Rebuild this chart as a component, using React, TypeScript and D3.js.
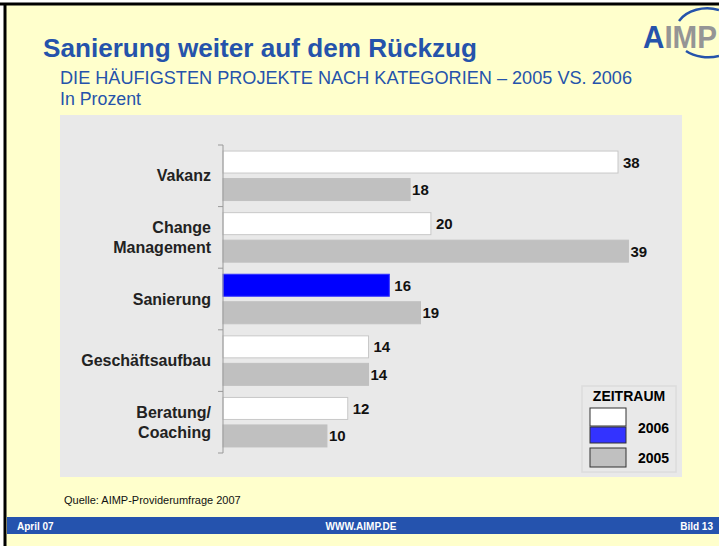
import * as d3 from 'd3'

const categories = ['Vakanz', 'Change\nManagement', 'Sanierung', 'Geschäftsaufbau', 'Beratung/\nCoaching']
const values2006 = [38, 20, 16, 14, 12]
const values2005 = [18, 39, 19, 14, 10]
const highlight = 'Sanierung'

const W = 719
const H = 546
const blue = '#2553AB'

const App = () => {
  // plot area
  const x0 = 223
  const top = 145
  const bottom = 453
  const x = d3.scaleLinear().domain([0, 38]).range([x0, 618])
  const y = d3.scaleBand().domain(categories).range([top, bottom])
  const inner = d3.scaleBand().domain(['2006', '2005']).range([0, y.bandwidth()]).paddingInner(0.2).paddingOuter(0.22)

  const series = [
    { key: '2006', values: values2006, gap: 5 },
    { key: '2005', values: values2005, gap: 2 },
  ]
  const ticks = [...categories.map((c) => y(c)), bottom]

  return (
    <div style={{ position: 'fixed', left: 0, top: 0 }}>
      <svg width={W} height={H} style={{ display: 'block', fontFamily: 'Liberation Sans, Arial, sans-serif' }}>
        <rect x={0} y={0} width={W} height={H} fill="#fff" />
        <rect x={6} y={5} width={W} height={H} fill="#FFFFCC" />
        <line x1={0} x2={W} y1={4} y2={4} stroke="#000" strokeWidth={3} />
        <line x1={5} x2={5} y1={3} y2={H} stroke="#000" strokeWidth={3} />

        {/* logo */}
        <g>
          <path d="M 679 21 A 32 24 0 0 1 719 10" fill="none" stroke="#2553AB" strokeWidth={2.5} />
          <path d="M 686 51 A 32 22 0 0 0 719 56" fill="none" stroke="#2553AB" strokeWidth={2.5} />
          <text x={643} y={48} fontSize={31} fontWeight="bold" textLength={74} lengthAdjust="spacingAndGlyphs">
            <tspan fill="#2553AB">A</tspan>
            <tspan fill="#959595">IMP</tspan>
          </text>
        </g>

        <text x={43} y={57} fontSize={26} fontWeight="bold" fill={blue} textLength={434} lengthAdjust="spacingAndGlyphs">Sanierung weiter auf dem Rückzug</text>
        <text x={60} y={84} fontSize={17.5} fill={blue} textLength={572} lengthAdjust="spacingAndGlyphs">
          DIE HÄUFIGSTEN PROJEKTE NACH KATEGORIEN – 2005 VS. 2006
        </text>
        <text x={60} y={105} fontSize={17.5} fill={blue} textLength={81} lengthAdjust="spacingAndGlyphs">In Prozent</text>

        <rect x={60} y={115} width={622} height={362} fill="#E9E9E9" />

        {/* bars */}
        {series.map((s) => (
          <g key={s.key}>
            {s.values.map((v, i) => {
              const c = categories[i]
              const by = y(c) + inner(s.key)
              const fill = s.key === '2005' ? '#C0C0C0' : c === highlight ? '#0000FF' : '#FFFFFF'
              const stroke = s.key === '2005' ? '#C0C0C0' : c === highlight ? '#3333FF' : '#C8C8C8'
              return (
                <g key={c}>
                  <rect x={x(0)} y={by} width={x(v) - x(0)} height={inner.bandwidth()} fill={fill} stroke={stroke} strokeWidth={1} />
                  <text x={x(v) + s.gap} y={by + inner.bandwidth() / 2 + 5.5} fontSize={15} fontWeight="bold" fill="#111">{v}</text>
                </g>
              )
            })}
          </g>
        ))}

        {/* axis */}
        <line x1={x0} x2={x0} y1={top} y2={bottom} stroke="#999" strokeWidth={1} />
        {ticks.map((t, i) => (
          <line key={i} x1={x0 - 5} x2={x0} y1={t} y2={t} stroke="#999" strokeWidth={1} />
        ))}
        {categories.map((c) => {
          const lines = c.split('\n')
          const cy = y(c) + y.bandwidth() / 2
          return (
            <text key={c} textAnchor="end" fontSize={16} fontWeight="bold" fill="#222">
              {lines.map((l, j) => (
                <tspan key={j} x={211} y={cy + 5.5 + (j - (lines.length - 1) / 2) * 20}>{l}</tspan>
              ))}
            </text>
          )
        })}

        {/* legend */}
        <rect x={582} y={386} width={94} height={86} fill="#E9E9E9" stroke="#DCDCDC" strokeWidth={1.5} />
        <text x={629} y={401} textAnchor="middle" fontSize={14} fontWeight="bold" fill="#000">ZEITRAUM</text>
        <rect x={590} y={408} width={36} height={18} fill="#fff" stroke="#333" strokeWidth={1} />
        <rect x={590} y={427} width={36} height={16} fill="#3333FF" stroke="#333" strokeWidth={1} />
        <rect x={590} y={448} width={36} height={19} fill="#C0C0C0" stroke="#333" strokeWidth={1} />
        <text x={638} y={433} fontSize={14} fontWeight="bold" fill="#000">2006</text>
        <text x={638} y={463} fontSize={14} fontWeight="bold" fill="#000">2005</text>

        <text x={64} y={504} fontSize={11} fill="#111">Quelle: AIMP-Providerumfrage 2007</text>

        {/* footer */}
        <rect x={7} y={517} width={W - 7} height={17} fill="#2553AE" />
        <text x={17} y={530} fontSize={10} fontWeight="bold" fill="#fff">April 07</text>
        <text x={361} y={530} textAnchor="middle" fontSize={10} fontWeight="bold" fill="#fff">WWW.AIMP.DE</text>
        <text x={713} y={530} textAnchor="end" fontSize={10} fontWeight="bold" fill="#fff">Bild 13</text>
      </svg>
    </div>
  )
}

export default App
